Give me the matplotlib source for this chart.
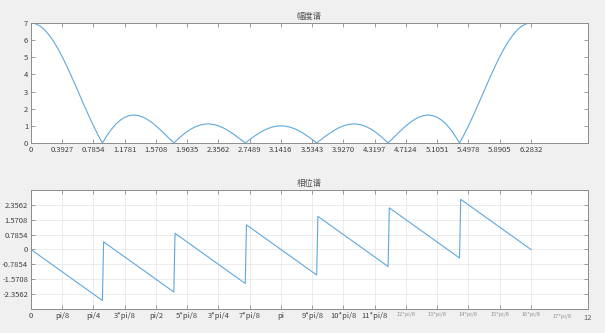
import numpy as np
import matplotlib
matplotlib.use('Agg')
from matplotlib import pyplot as plt

plt.rcParams['font.family'] = ['Noto Sans CJK SC', 'DejaVu Sans']

# magnitude spectrum, sampled every pi/56 over [0, 2*pi]
mag_w = np.linspace(0, 2 * np.pi, 113)
mag = [7.000, 6.956, 6.825, 6.610, 6.315, 5.948, 5.516, 5.027, 4.494, 3.927,
       3.337, 2.738, 2.141, 1.558, 1.000, 0.478, 0.000, 0.425, 0.791, 1.094,
       1.329, 1.497, 1.597, 1.631, 1.604, 1.520, 1.386, 1.211, 1.000, 0.765,
       0.513, 0.255, 0.000, 0.244, 0.469, 0.668, 0.835, 0.965, 1.056, 1.104,
       1.110, 1.075, 1.000, 0.890, 0.749, 0.583, 0.398, 0.201, 0.000, 0.199,
       0.388, 0.561, 0.712, 0.834, 0.925, 0.981, 1.000,
       0.981, 0.925, 0.834, 0.712, 0.561, 0.388, 0.199, 0.000, 0.201, 0.398,
       0.583, 0.749, 0.890, 1.000, 1.075, 1.110, 1.104, 1.056, 0.965, 0.835,
       0.668, 0.469, 0.244, 0.000, 0.255, 0.513, 0.765, 1.000, 1.211, 1.386,
       1.520, 1.604, 1.631, 1.597, 1.497, 1.329, 1.094, 0.791, 0.425, 0.000,
       0.478, 1.000, 1.558, 2.141, 2.738, 3.337, 3.927, 4.494, 5.027, 5.516,
       5.948, 6.315, 6.610, 6.825, 6.956, 7.000]

# phase spectrum vertices
phase_w = [0.0, 0.8976, 0.9126, 1.7952, 1.8102, 2.6928, 2.7078, 3.5904, 3.6054,
           4.4880, 4.5030, 5.3856, 5.4006, 6.2832]
phase = [0.0, -2.693, 0.404, -2.244, 0.853, -1.795, 1.301, -1.346, 1.750,
         -0.898, 2.199, -0.449, 2.648, 0.0]

top_ticks = [k * np.pi / 8 for k in range(17)]
top_labels = ['0', '0.3927', '0.7854', '1.1781', '1.5708', '1.9635', '2.3562',
              '2.7489', '3.1416', '3.5343', '3.9270', '4.3197', '4.7124',
              '5.1051', '5.4978', '5.8905', '6.2832']
bot_labels = ['0', 'pi/8', 'pi/4', '3*pi/8', 'pi/2', '5*pi/8', '3*pi/4', '7*pi/8',
              'pi', '9*pi/8', '10*pi/8', '11*pi/8', '12*pi/8', '13*pi/8',
              '14*pi/8', '15*pi/8', '16*pi/8']
phase_ticks = [-2.3562, -1.5708, -0.7854, 0, 0.7854, 1.5708, 2.3562]
phase_labels = ['-2.3562', '-1.5708', '-0.7854', '0', '0.7854', '1.5708', '2.3562']

line_color = '#5fa8dd'
bg = '#f0f0f0'

fig = plt.figure(figsize=(6.05, 3.33), dpi=100, facecolor=bg)
ax1 = fig.add_axes([0.0512, 0.5706, 0.9207, 0.3604])
ax2 = fig.add_axes([0.0512, 0.0721, 0.9207, 0.3574])

for ax in (ax1, ax2):
    ax.set_facecolor('white')
    for s in ax.spines.values():
        s.set_color('#8c8c8c')
        s.set_linewidth(0.7)
    ax.tick_params(direction='in', length=3, width=0.6, color='#8c8c8c',
                   labelsize=5.5, labelcolor='#404040', top=True, right=True,
                   pad=2)

ax1.plot(mag_w, mag, color=line_color, linewidth=0.8)
ax1.set_xlim(0, 7)
ax1.set_ylim(0, 7)
ax1.set_xticks(top_ticks)
ax1.set_xticklabels(top_labels)
ax1.set_yticks(range(8))
ax1.set_title('幅度谱', fontsize=6, color='#505050', pad=3)

ax2.plot(phase_w, phase, color=line_color, linewidth=0.8)
ax2.set_xlim(0, 7)
ax2.set_ylim(-np.pi, np.pi)
ax2.set_xticks(top_ticks)
ax2.set_xticklabels(bot_labels)
ax2.set_yticks(phase_ticks)
ax2.set_yticklabels(phase_labels)
ax2.grid(True, color='#e4e4e4', linewidth=0.5)
ax2.set_axisbelow(True)
ax2.set_title('相位谱', fontsize=6, color='#505050', pad=3)
# the last labels are smeared in the original
for lbl in ax2.get_xticklabels()[12:]:
    lbl.set_fontsize(4)
    lbl.set_color('#909090')
ax2.text(17 * np.pi / 8, -3.42, '17*pi/8', fontsize=4, color='#909090',
         ha='center', va='top')
ax2.text(7.0, -3.42, '12', fontsize=5.5, color='#606060', ha='center', va='top')

fig.savefig('out.png', dpi=100, facecolor=bg)
